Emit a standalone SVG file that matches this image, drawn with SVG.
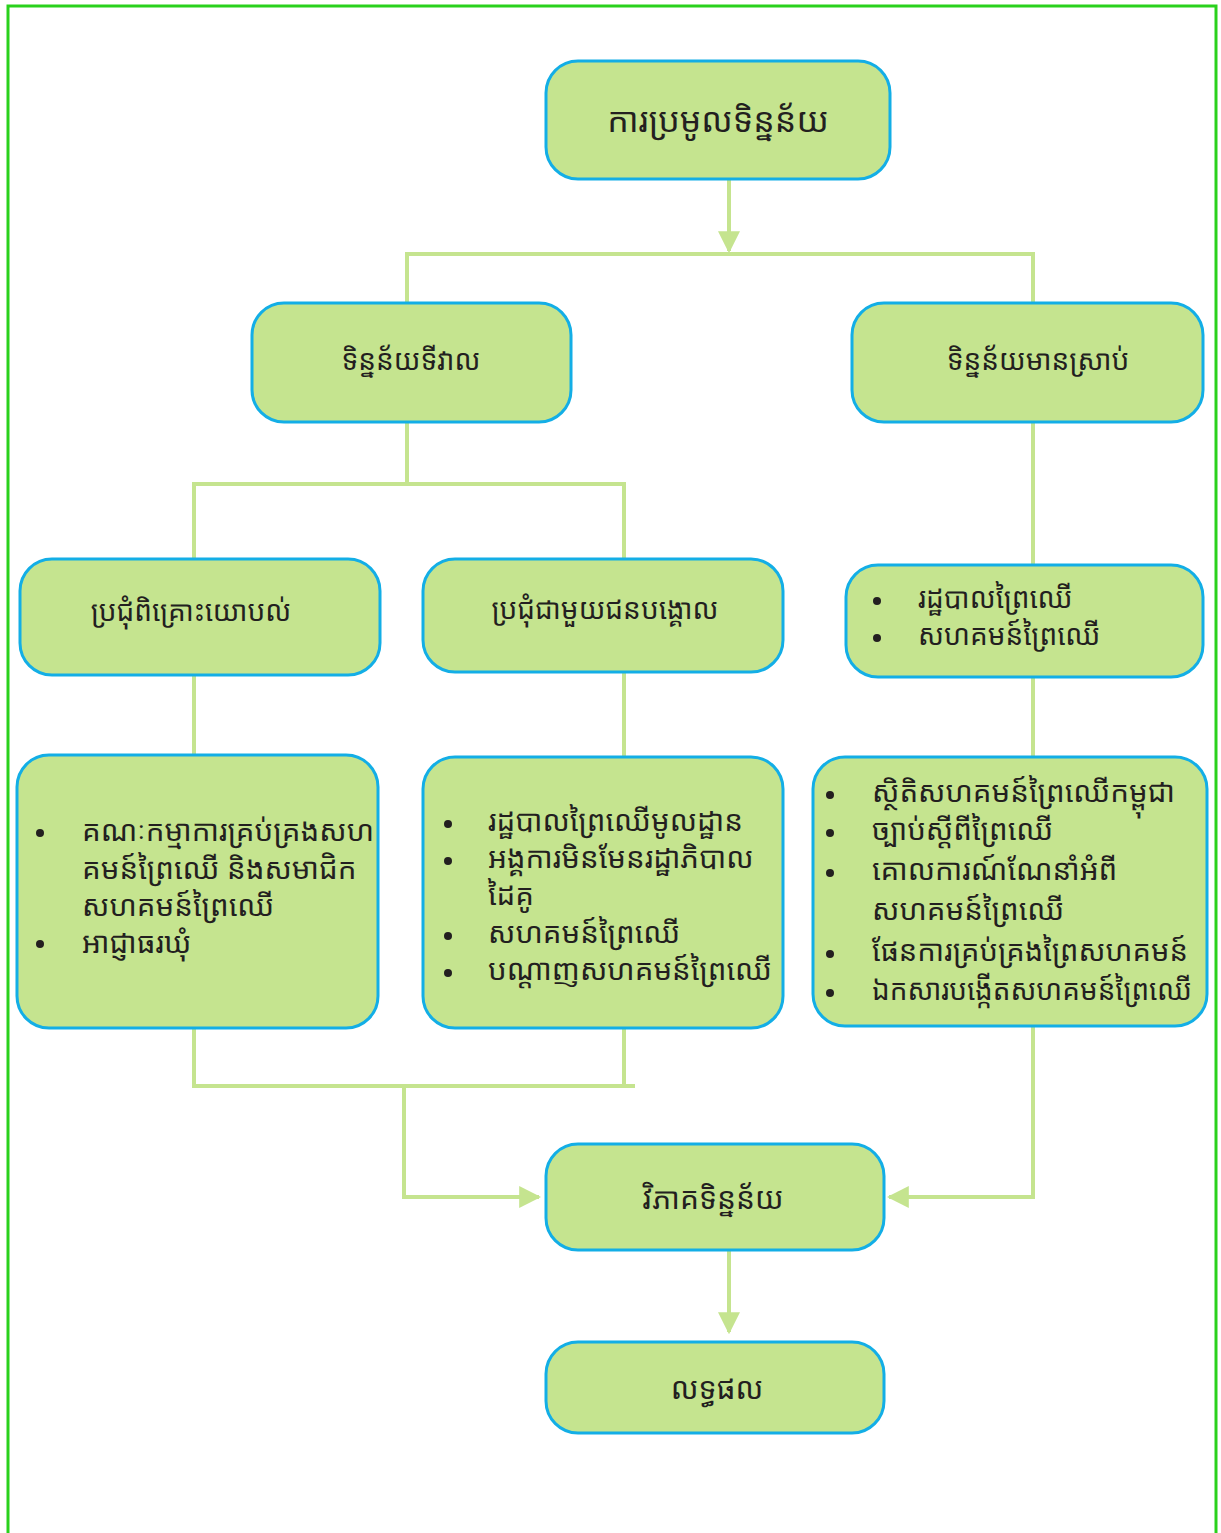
<svg xmlns="http://www.w3.org/2000/svg" width="1221" height="1533" viewBox="0 0 1221 1533">
<style>
.node{fill:#c5e48f;stroke:#13aee6;stroke-width:3}
.t{font-family:"Noto Sans Khmer","Khmer OS","Noto Serif Khmer","Liberation Sans",sans-serif;fill:#231f20}
.title{font-size:28px;text-anchor:middle}
.main{font-size:34px;text-anchor:middle}
.end{font-size:30px;text-anchor:middle}
.li{font-size:29.5px}
.lis{font-size:28px}
.con{fill:none;stroke:#c5e48f;stroke-width:4}
.dot{fill:#231f20}
</style>
<defs>
<marker id="arr" viewBox="0 0 10 10" refX="9" refY="5" markerWidth="5.5" markerHeight="5.5" orient="auto" markerUnits="strokeWidth">
<path d="M0,0 L10,5 L0,10 z" fill="#c5e48f"/>
</marker>
</defs>
<rect x="8" y="6" width="1208" height="1540" fill="#ffffff" stroke="#2ad11c" stroke-width="3"/>
<g id="connectors">
<path class="con" d="M729,180 V251" marker-end="url(#arr)"/>
<path class="con" d="M407,303 V254 H1033 V303"/>
<path class="con" d="M407,422 V484"/>
<path class="con" d="M194,559 V484 H624 V559"/>
<path class="con" d="M1033,422 V565"/>
<path class="con" d="M194,675 V755"/>
<path class="con" d="M624,672 V757"/>
<path class="con" d="M1033,677 V757"/>
<path class="con" d="M194,1028 V1086 H635"/>
<path class="con" d="M624,1028 V1086"/>
<path class="con" d="M404,1086 V1197 H539" marker-end="url(#arr)"/>
<path class="con" d="M1033,1026 V1197 H889" marker-end="url(#arr)"/>
<path class="con" d="M729,1251 V1332" marker-end="url(#arr)"/>
</g>
<g id="n-collect">
<rect class="node" x="546" y="61" width="344" height="118" rx="32"/>
<text class="t main" x="718" y="132">ការប្រមូលទិន្នន័យ</text>
</g>
<g id="n-field">
<rect class="node" x="252" y="303" width="319" height="119" rx="32"/>
<text class="t title" x="411" y="370">ទិន្នន័យទីវាល</text>
</g>
<g id="n-existing">
<rect class="node" x="852" y="303" width="351" height="119" rx="32"/>
<text class="t title" x="1038" y="370">ទិន្នន័យមានស្រាប់</text>
</g>
<g id="n-consult">
<rect class="node" x="20" y="559" width="360" height="116" rx="32"/>
<text class="t title" x="191" y="621">ប្រជុំពិគ្រោះយោបល់</text>
</g>
<g id="n-stakeholder">
<rect class="node" x="423" y="559" width="360" height="113" rx="32"/>
<text class="t title" x="605" y="619">ប្រជុំជាមួយជនបង្គោល</text>
</g>
<g id="n-sources">
<rect class="node" x="846" y="565" width="357" height="112" rx="32"/>
<circle class="dot" cx="877" cy="601" r="4"/>
<circle class="dot" cx="877" cy="638" r="4"/>
<text class="t lis" x="918" y="608">រដ្ឋបាលព្រៃឈើ</text>
<text class="t lis" x="918" y="645">សហគមន៍ព្រៃឈើ</text>
</g>
<g id="n-consult-list">
<rect class="node" x="17" y="755" width="361" height="273" rx="32"/>
<circle class="dot" cx="40" cy="833" r="4"/>
<circle class="dot" cx="40" cy="944" r="4"/>
<text class="t li" x="82" y="841">គណៈកម្មាការគ្រប់គ្រងសហ</text>
<text class="t li" x="82" y="879">គមន៍ព្រៃឈើ និងសមាជិក</text>
<text class="t li" x="82" y="916">សហគមន៍ព្រៃឈើ</text>
<text class="t li" x="82" y="953">អាជ្ញាធរឃុំ</text>
</g>
<g id="n-stakeholder-list">
<rect class="node" x="423" y="757" width="360" height="271" rx="32"/>
<circle class="dot" cx="448" cy="824" r="4"/>
<circle class="dot" cx="448" cy="861" r="4"/>
<circle class="dot" cx="448" cy="936" r="4"/>
<circle class="dot" cx="448" cy="973" r="4"/>
<text class="t li" x="488" y="831">រដ្ឋបាលព្រៃឈើមូលដ្ឋាន</text>
<text class="t li" x="488" y="868">អង្គការមិនមែនរដ្ឋាភិបាល</text>
<text class="t li" x="488" y="905">ដៃគូ</text>
<text class="t li" x="488" y="943">សហគមន៍ព្រៃឈើ</text>
<text class="t li" x="488" y="980">បណ្ដាញសហគមន៍ព្រៃឈើ</text>
</g>
<g id="n-existing-list">
<rect class="node" x="813" y="757" width="394" height="269" rx="32"/>
<circle class="dot" cx="830" cy="795" r="4"/>
<circle class="dot" cx="830" cy="833" r="4"/>
<circle class="dot" cx="830" cy="873" r="4"/>
<circle class="dot" cx="830" cy="954" r="4"/>
<circle class="dot" cx="830" cy="993" r="4"/>
<text class="t li" x="872" y="802">ស្ថិតិសហគមន៍ព្រៃឈើកម្ពុជា</text>
<text class="t li" x="872" y="840">ច្បាប់ស្ដីពីព្រៃឈើ</text>
<text class="t li" x="872" y="880">គោលការណ៍ណែនាំអំពី</text>
<text class="t li" x="872" y="920">សហគមន៍ព្រៃឈើ</text>
<text class="t li" x="872" y="961" textLength="316" lengthAdjust="spacingAndGlyphs">ផែនការគ្រប់គ្រងព្រៃសហគមន៍</text>
<text class="t li" x="872" y="1000" textLength="320" lengthAdjust="spacingAndGlyphs">ឯកសារបង្កើតសហគមន៍ព្រៃឈើ</text>
</g>
<g id="n-analyze">
<rect class="node" x="546" y="1144" width="338" height="106" rx="32"/>
<text class="t end" x="713" y="1209">វិភាគទិន្នន័យ</text>
</g>
<g id="n-result">
<rect class="node" x="546" y="1342" width="338" height="91" rx="32"/>
<text class="t end" x="717" y="1399">លទ្ធផល</text>
</g>
</svg>
